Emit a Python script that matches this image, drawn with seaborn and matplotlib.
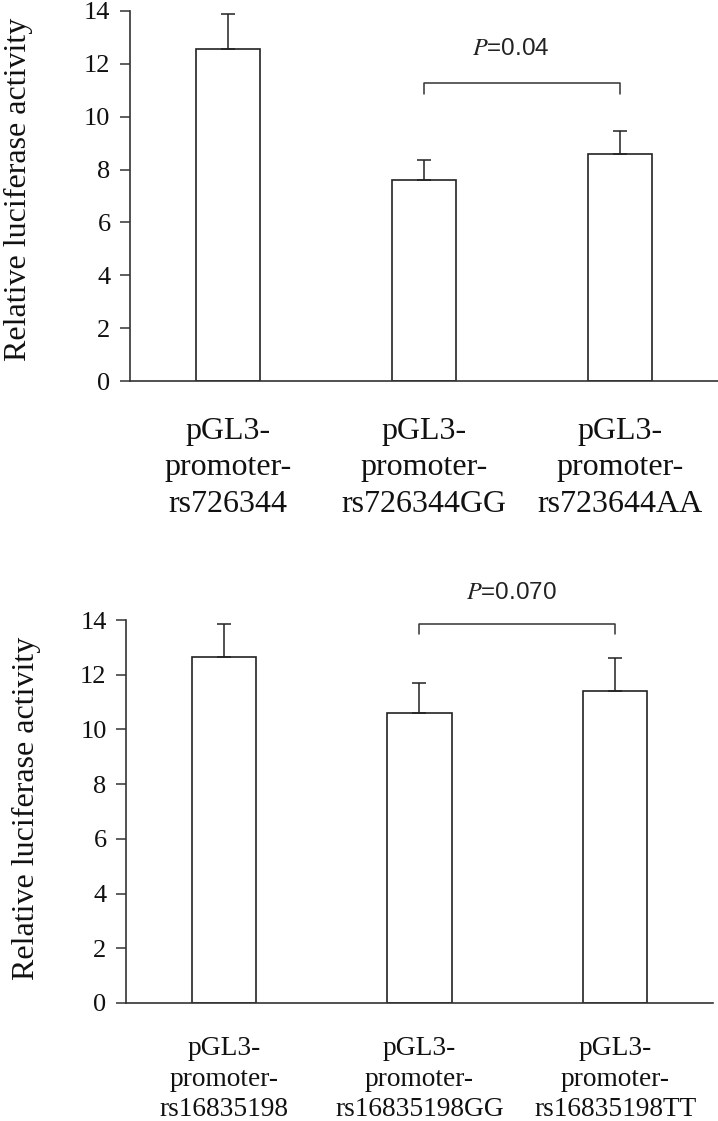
import matplotlib
matplotlib.use("Agg")
import matplotlib.pyplot as plt
import seaborn as sns
import pandas as pd
import numpy as np

# ---------------- data ----------------
top_categories = ["pGL3-\npromoter-\nrs726344",
                  "pGL3-\npromoter-\nrs726344GG",
                  "pGL3-\npromoter-\nrs723644AA"]
top_values = [12.58, 7.61, 8.60]
top_errors = [1.31, 0.76, 0.87]
top_pvalue = "0.04"

bottom_categories = ["pGL3-\npromoter-\nrs16835198",
                     "pGL3-\npromoter-\nrs16835198GG",
                     "pGL3-\npromoter-\nrs16835198TT"]
bottom_values = [12.63, 10.59, 11.42]
bottom_errors = [1.21, 1.09, 1.18]
bottom_pvalue = "0.070"

y_ticks = [0, 2, 4, 6, 8, 10, 12, 14]
y_label = "Relative luciferase activity"

# ---------------- style ----------------
sns.set_theme(style="white")
SERIF = ["Liberation Serif", "DejaVu Serif"]
plt.rcParams["font.family"] = SERIF
plt.rcParams["mathtext.fontset"] = "stix"
LINE = "#333333"

fig = plt.figure(figsize=(7.18, 11.21), dpi=100)
ax_top = fig.add_axes([0.181, 0.6601, 0.819, 0.3301])
ax_bot = fig.add_axes([0.1755, 0.1053, 0.8175, 0.3416])


def draw_panel(ax, cats, vals, errs, pval, bracket, ptext_pos, xfs, xpad,
               xls):
    df = pd.DataFrame({"cat": cats, "val": vals})
    sns.barplot(data=df, x="cat", y="val", order=cats, color="white",
                edgecolor="#222222", linewidth=1.2, width=0.33,
                errorbar=None, ax=ax, saturation=1)
    xs = np.arange(len(cats))
    ax.errorbar(xs, vals, yerr=[np.zeros(len(errs)), errs], fmt="none",
                ecolor="#222222", elinewidth=1.1, capsize=5, capthick=1.1)
    ax.set_xlim(-0.5, 2.5)
    ax.set_ylim(0, 14)
    ax.set_xlabel("")
    ax.set_ylabel("")
    for s in ["top", "right"]:
        ax.spines[s].set_visible(False)
    for s in ["left", "bottom"]:
        ax.spines[s].set_color(LINE)
        ax.spines[s].set_linewidth(1.2)
    ax.tick_params(axis="y", direction="out", length=7, width=1.1,
                   color=LINE, pad=7, left=True)
    ax.tick_params(axis="x", length=0, pad=xpad)
    ax.set_yticks(y_ticks, labels=[str(t) for t in y_ticks], fontsize=19,
                  fontfamily=SERIF, color="#111111")
    ax.set_xticks(xs, labels=cats, fontsize=xfs, fontfamily=SERIF,
                  color="#111111", linespacing=xls)
    # significance bracket
    lo, hi = bracket
    ax.plot([1, 1, 2, 2], [lo, hi, hi, lo], color=LINE, lw=1.1,
            clip_on=False)
    ax.text(ptext_pos[0], ptext_pos[1], r"$\mathit{P}$=" + pval,
            ha="center", va="center", fontsize=17.5,
            family=["Liberation Sans", "DejaVu Sans"], color="#222222",
            clip_on=False)


draw_panel(ax_top, top_categories, top_values, top_errors, top_pvalue,
           (10.87, 11.28), (1.44, 12.56), 23, 26, 1.33)
draw_panel(ax_bot, bottom_categories, bottom_values, bottom_errors,
           bottom_pvalue, (13.49, 13.85), (1.47, 15.0), 19.7, 24, 1.29)

fig.text(18 / 718, 1 - 189 / 1121, y_label, rotation=90, ha="center",
         va="center", fontsize=23, color="#111111")
fig.text(26 / 718, 1 - 808 / 1121, y_label, rotation=90, ha="center",
         va="center", fontsize=23, color="#111111")

fig.savefig("out.png", dpi=100, facecolor="white")
